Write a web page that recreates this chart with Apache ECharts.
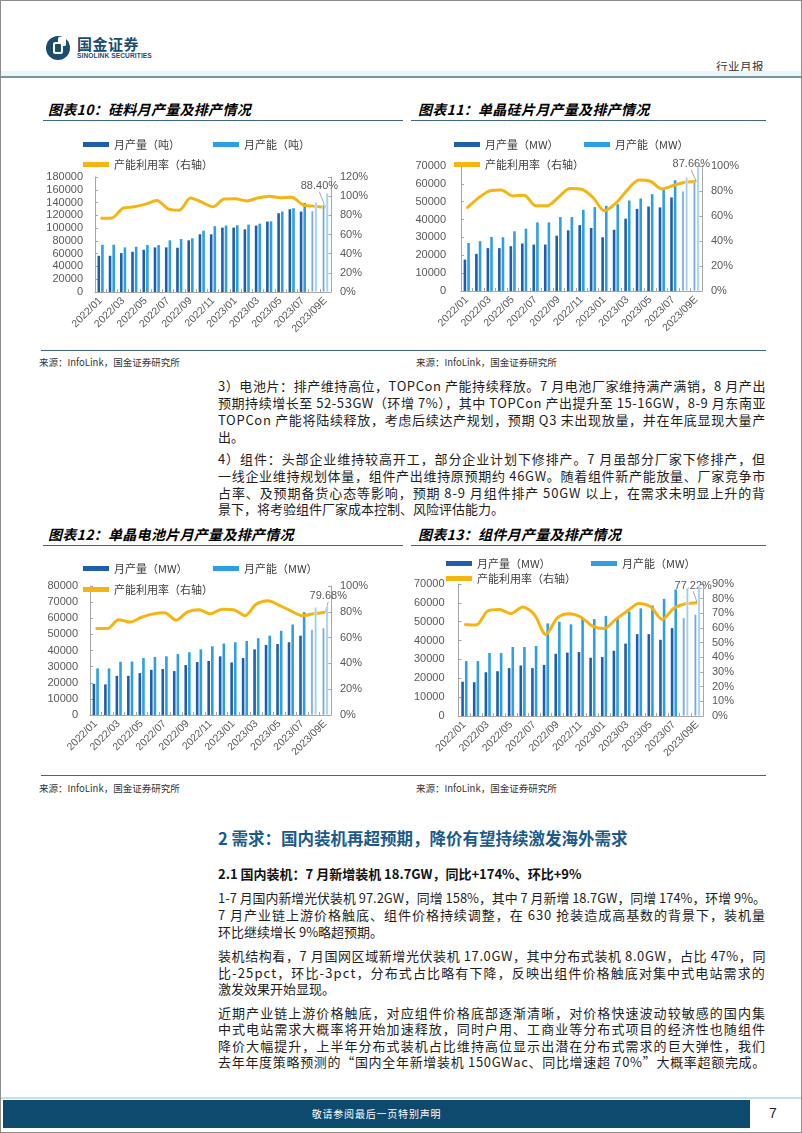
<!DOCTYPE html>
<html><head><meta charset="utf-8">
<script src="https://cdn.jsdelivr.net/npm/echarts@6/dist/echarts.min.js"></script>
<style>
html,body{margin:0;padding:0;background:#fff;}
#page{position:relative;width:802px;height:1133px;overflow:hidden;background:#fff;font-family:"Noto Sans CJK SC",sans-serif;box-sizing:border-box;border:1.5px solid #8c8c8c;}
.ctitle{position:absolute;font-size:14px;font-weight:bold;font-style:italic;color:#000;white-space:nowrap;line-height:16px;letter-spacing:0.3px}
.rule{position:absolute;height:1.5px;background:#3f6682;}
.src{position:absolute;font-size:9.5px;color:#333;white-space:nowrap;line-height:12px;}
.ln{position:absolute;left:217px;white-space:nowrap;font-size:13px;line-height:16px;color:#1e1e1e;}
.ln span{white-space:nowrap;}
.chart{position:absolute;}
</style></head>
<body>
<div id="page">
  <!-- header -->
  <svg style="position:absolute;left:44px;top:33px" width="28" height="28" viewBox="0 0 28 28">
    <circle cx="13" cy="14" r="12" fill="#1b4d70"/>
    <rect x="13" y="3" width="8" height="9" rx="1.5" fill="#ffffff"/>
    <rect x="8" y="8" width="10" height="12" rx="2" fill="#ffffff"/>
    <rect x="10" y="10" width="6" height="8" rx="1" fill="#1b4d70"/>
  </svg>
  <div style="position:absolute;left:76px;top:34px;font-size:15px;font-weight:bold;color:#1b4d70;letter-spacing:0.5px;line-height:17px;">国金证券</div>
  <div style="position:absolute;left:76px;top:51px;font-size:6.6px;font-weight:bold;color:#1b4d70;line-height:8px;font-family:'Liberation Sans Narrow','Liberation Sans',sans-serif;letter-spacing:0.1px">SINOLINK SECURITIES</div>
  <div style="position:absolute;left:715px;top:58px;font-size:11.5px;color:#333;line-height:14px;letter-spacing:0.5px">行业月报</div>
  <div style="position:absolute;left:0;top:70px;width:802px;height:5px;background:#e9f6fa;"></div>
  <div style="position:absolute;left:0;top:75px;width:802px;height:2px;background:#7795a4;"></div>

  <!-- chart titles -->
  <div class="ctitle" style="left:47px;top:100px">图表10：硅料月产量及排产情况</div>
  <div class="rule" style="left:42px;top:118.5px;width:360px"></div>
  <div class="ctitle" style="left:417px;top:100px">图表11：单晶硅片月产量及排产情况</div>
  <div class="rule" style="left:410px;top:118.5px;width:355px"></div>

  <div id="c10" class="chart" style="left:30px;top:125px;width:370px;height:220px"></div>
  <div id="c11" class="chart" style="left:410px;top:125px;width:390px;height:220px"></div>

  <div class="rule" style="left:40px;top:348.5px;width:725px"></div>
  <div class="src" style="left:38px;top:355px">来源：InfoLink，国金证券研究所</div>
  <div class="src" style="left:415px;top:355px">来源：InfoLink，国金证券研究所</div>

  <div class="ln j" style="top:377px"><span>3）电池片：排产维持高位，TOPCon 产能持续释放。7 月电池厂家维持满产满销，8 月产出</span></div>
  <div class="ln j" style="top:394px"><span>预期持续增长至 52-53GW（环增 7%），其中 TOPCon 产出提升至 15-16GW，8-9 月东南亚</span></div>
  <div class="ln j" style="top:411px"><span>TOPCon 产能将陆续释放，考虑后续达产规划，预期 Q3 末出现放量，并在年底显现大量产</span></div>
  <div class="ln" style="top:428px"><span>出。</span></div>
  <div class="ln j" style="top:450px"><span>4）组件：头部企业维持较高开工，部分企业计划下修排产。7 月虽部分厂家下修排产，但</span></div>
  <div class="ln j" style="top:467px"><span>一线企业维持规划体量，组件产出维持原预期约 46GW。随着组件新产能放量、厂家竞争市</span></div>
  <div class="ln j" style="top:484px"><span>占率、及预期备货心态等影响，预期 8-9 月组件排产 50GW 以上，在需求未明显上升的背</span></div>
  <div class="ln" style="top:500px"><span>景下，将考验组件厂家成本控制、风险评估能力。</span></div>

  <div class="ctitle" style="left:47px;top:525px">图表12：单晶电池片月产量及排产情况</div>
  <div class="rule" style="left:42px;top:543.5px;width:360px"></div>
  <div class="ctitle" style="left:417px;top:525px">图表13：组件月产量及排产情况</div>
  <div class="rule" style="left:410px;top:543.5px;width:355px"></div>

  <div id="c12" class="chart" style="left:30px;top:550px;width:370px;height:220px"></div>
  <div id="c13" class="chart" style="left:410px;top:550px;width:390px;height:220px"></div>

  <div class="rule" style="left:40px;top:773.5px;width:725px"></div>
  <div class="src" style="left:38px;top:781px">来源：InfoLink，国金证券研究所</div>
  <div class="src" style="left:415px;top:781px">来源：InfoLink，国金证券研究所</div>

  <div style="position:absolute;left:217px;top:826px;font-size:16.5px;font-weight:bold;color:#1b5a8a;white-space:nowrap;line-height:22px;">2 需求：国内装机再超预期，降价有望持续激发海外需求</div>
  <div class="ln" style="top:865px;font-weight:bold;color:#111"><span>2.1 国内装机：7 月新增装机 18.7GW，同比+174%、环比+9%</span></div>

  <div class="ln j" style="top:889px"><span>1-7 月国内新增光伏装机 97.2GW，同增 158%，其中 7 月新增 18.7GW，同增 174%，环增 9%。</span></div>
  <div class="ln j" style="top:906px"><span>7 月产业链上游价格触底、组件价格持续调整，在 630 抢装造成高基数的背景下，装机量</span></div>
  <div class="ln" style="top:923px"><span>环比继续增长 9%略超预期。</span></div>
  <div class="ln j" style="top:947px"><span>装机结构看，7 月国网区域新增光伏装机 17.0GW，其中分布式装机 8.0GW，占比 47%，同</span></div>
  <div class="ln j" style="top:964px"><span>比-25pct，环比-3pct，分布式占比略有下降，反映出组件价格触底对集中式电站需求的</span></div>
  <div class="ln" style="top:980px"><span>激发效果开始显现。</span></div>
  <div class="ln j" style="top:1004px"><span>近期产业链上游价格触底，对应组件价格底部逐渐清晰，对价格快速波动较敏感的国内集</span></div>
  <div class="ln j" style="top:1020px"><span>中式电站需求大概率将开始加速释放，同时户用、工商业等分布式项目的经济性也随组件</span></div>
  <div class="ln j" style="top:1037px"><span>降价大幅提升，上半年分布式装机占比维持高位显示出潜在分布式需求的巨大弹性，我们</span></div>
  <div class="ln j" style="top:1053px"><span>去年年度策略预测的“国内全年新增装机 150GWac、同比增速超 70%”大概率超额完成。</span></div>

  <!-- footer -->
  <div style="position:absolute;left:0;top:1096px;width:802px;height:1.5px;background:#bfe3ee;"></div>
  <div style="position:absolute;left:2px;top:1099px;width:747px;height:28px;background:#0d4a6e;"></div>
  <div style="position:absolute;left:2px;top:1106px;width:747px;text-align:center;font-size:10px;color:#fff;line-height:13px;letter-spacing:0.8px">敬请参阅最后一页特别声明</div>
  <div style="position:absolute;left:768px;top:1104px;font-size:14px;color:#222;line-height:16px;font-family:'Liberation Sans',sans-serif">7</div>
</div>

<script>
// ---------- data ----------
const categories = ['2022/01','2022/02','2022/03','2022/04','2022/05','2022/06','2022/07','2022/08','2022/09','2022/10','2022/11','2022/12',
  '2023/01','2023/02','2023/03','2023/04','2023/05','2023/06','2023/07','2023/08','2023/09E'];

// 图表10 硅料（吨）
const siliconOutput   = [56700,56700,60900,63000,66100,69800,69800,69300,80800,90300,90300,100800,100800,98100,103900,110200,123300,129600,125900,127000,137000];
const siliconCapacity = [74000,74000,69800,70800,73500,73500,80800,82900,84000,96000,102900,103900,104400,105500,107000,110700,126000,131200,139600,141000,155000];
const siliconUtil     = [77.0,77.3,87.5,88.9,91.7,95.5,86.8,85.4,98.2,93.8,88.9,97.0,97.3,95.0,98.2,100.0,98.4,98.8,91.0,89.6,88.4];

// 图表11 单晶硅片（MW）
const waferOutput   = [17600,20800,24000,24000,25100,26600,26000,26000,31000,34000,36900,35300,30100,34300,40500,46000,47300,46800,52400,55900,61000];
const waferCapacity = [26900,27900,30300,30100,33400,34900,38400,38400,41400,41400,45500,47000,47700,48600,50700,51800,54200,57200,62000,63700,69600];
const waferUtil     = [66.3,74.3,80.1,80.9,76.1,76.7,68.2,68.2,75.1,82.0,81.4,74.8,64.2,70.3,80.9,88.9,87.8,81.7,84.4,87.0,87.66];

// 图表12 单晶电池片（MW）
const cellOutput   = [19300,19000,24300,24300,26000,28000,28500,27200,31000,32800,33500,36400,32600,35300,40700,43400,44000,45100,49200,53000,54000];
const cellCapacity = [28900,28900,33000,33200,35300,36000,36400,37800,38900,40700,42600,44300,45100,45900,47600,49200,52200,56100,63800,66900,67800];
const cellUtil     = [67.0,67.0,73.8,72.0,75.8,78.4,79.2,73.5,80.0,81.6,78.4,82.0,81.6,77.0,86.0,88.6,85.0,80.8,77.0,78.5,79.68];

// 图表13 组件（MW）
const moduleOutput   = [18200,17900,23200,23750,25400,26800,25400,27100,33000,33600,33900,30900,31250,34600,38400,43400,43400,40400,46600,52100,53900];
const moduleCapacity = [29100,29100,33400,33400,36600,36600,37100,49100,50000,48600,51800,51400,53000,52300,55400,57100,58600,62100,67100,67900,69300];
const moduleUtil     = [62.4,62.0,71.6,72.6,69.8,74.4,69.3,55.6,67.0,69.8,67.5,61.3,59.7,65.9,71.6,76.7,74.4,65.9,73.5,76.5,77.22];

// axis scales
const siliconAxis = {leftMax:180000, leftStep:20000, rightMax:120, rightStep:20};
const waferAxis   = {leftMax:70000,  leftStep:10000, rightMax:100, rightStep:20};
const cellAxis    = {leftMax:80000,  leftStep:10000, rightMax:100, rightStep:20};
const moduleAxis  = {leftMax:70000,  leftStep:10000, rightMax:90,  rightStep:10};

const forecastCount = 2;
const COL_OUT = '#1f5eaa', COL_CAP = '#2d9fe4', COL_OUT_F = '#78a9d9', COL_CAP_F = '#9fcff0', COL_LINE = '#f5b411';
const AXIS_COL = '#a6a6a6', LABEL_COL = '#595959';

function buildChart(id, cfg) {
  const chart = echarts.init(document.getElementById(id), null, {renderer: 'canvas'});
  const n = categories.length;
  const actual = arr => arr.map((v, i) => i < n - forecastCount ? v : null);
  const fore = arr => arr.map((v, i) => i >= n - forecastCount ? v : null);
  const utilData = cfg.util.map((v, i) => i === n - 1
    ? {value: v, label: {show: true, formatter: cfg.utilLabel}}
    : v);
  const legBase = {icon: 'rect', itemWidth: 26, itemHeight: 5, itemGap: 0, padding: 0, selectedMode: false,
    textStyle: {fontSize: 11, color: '#404040', fontFamily: '"Noto Sans CJK SC", sans-serif'}};
  const barBase = {type: 'bar', barWidth: 2.6, barGap: '40%', barCategoryGap: '50%'};
  chart.setOption({
    animation: false,
    textStyle: {fontFamily: '"Liberation Sans", "Noto Sans CJK SC", sans-serif'},
    legend: [
      Object.assign({}, legBase, {data: [cfg.names[0]], left: cfg.leg[0][0], top: cfg.leg[0][1]}),
      Object.assign({}, legBase, {data: [cfg.names[1]], left: cfg.leg[1][0], top: cfg.leg[1][1]}),
      Object.assign({}, legBase, {data: [cfg.names[2]], left: cfg.leg[2][0], top: cfg.leg[2][1]})
    ],
    grid: {left: cfg.grid[0], top: cfg.grid[1], width: cfg.grid[2], height: cfg.grid[3], containLabel: false},
    xAxis: {
      type: 'category', data: categories, boundaryGap: true,
      axisLine: {lineStyle: {color: AXIS_COL, width: 1}},
      axisTick: {show: true, inside: true, length: 3, interval: 0, lineStyle: {color: AXIS_COL}},
      axisLabel: {interval: 1, rotate: 45, fontSize: 10.5, color: LABEL_COL, margin: 7}
    },
    yAxis: [
      {type: 'value', min: 0, max: cfg.axis.leftMax, interval: cfg.axis.leftStep,
       axisLine: {show: true, lineStyle: {color: AXIS_COL, width: 1}},
       axisTick: {show: true, inside: true, length: 3, lineStyle: {color: AXIS_COL}},
       splitLine: {show: false},
       axisLabel: {fontSize: 11, color: LABEL_COL, margin: cfg.lm, formatter: v => String(v)}},
      {type: 'value', min: 0, max: cfg.axis.rightMax, interval: cfg.axis.rightStep, position: 'right',
       axisLine: {show: true, lineStyle: {color: AXIS_COL, width: 1}},
       axisTick: {show: true, inside: true, length: 3, lineStyle: {color: AXIS_COL}},
       splitLine: {show: false},
       axisLabel: {fontSize: 11, color: LABEL_COL, margin: 9, formatter: v => String(v) + '%'}}
    ],
    series: [
      Object.assign({}, barBase, {name: cfg.names[0], stack: 'out', data: actual(cfg.out), itemStyle: {color: COL_OUT}, z: 2}),
      Object.assign({}, barBase, {name: cfg.names[1], stack: 'cap', data: actual(cfg.cap), itemStyle: {color: COL_CAP}, z: 2}),
      Object.assign({}, barBase, {name: cfg.names[0] + 'E', stack: 'out', data: fore(cfg.out), itemStyle: {color: COL_OUT_F, borderColor: '#ffffff', borderWidth: 0.4}, z: 4}),
      Object.assign({}, barBase, {name: cfg.names[1] + 'E', stack: 'cap', data: fore(cfg.cap), itemStyle: {color: COL_CAP_F, borderColor: '#ffffff', borderWidth: 0.4}, z: 4}),
      {type: 'line', name: cfg.names[2], yAxisIndex: 1, data: utilData, smooth: 0.3,
       showSymbol: true, symbol: 'circle', symbolSize: 1, itemStyle: {color: COL_LINE},
       lineStyle: {color: COL_LINE, width: 3}, z: 3,
       label: {show: false, fontSize: 11, color: LABEL_COL, position: 'top'},
       labelLine: {show: true, lineStyle: {color: '#a6a6a6', width: 1}},
       labelLayout: {dx: cfg.lab[0], dy: cfg.lab[1]}}
    ]
  });
  return chart;
}

buildChart('c10', {out: siliconOutput, cap: siliconCapacity, util: siliconUtil, axis: siliconAxis, utilLabel: '88.40%',
  names: ['月产量（吨）', '月产能（吨）', '产能利用率（右轴）'],
  leg: [[52, 13], [182, 13], [52, 33]], grid: [64, 51, 236, 115], lm: 12, lab: [-6, -10]});
buildChart('c11', {out: waferOutput, cap: waferCapacity, util: waferUtil, axis: waferAxis, utilLabel: '87.66%',
  names: ['月产量（MW）', '月产能（MW）', '产能利用率（右轴）'],
  leg: [[43, 13], [173, 13], [43, 33]], grid: [50, 40, 241, 125], lm: 15, lab: [-5, -6]});
buildChart('c12', {out: cellOutput, cap: cellCapacity, util: cellUtil, axis: cellAxis, utilLabel: '79.68%',
  names: ['月产量（MW）', '月产能（MW）', '产能利用率（右轴）'],
  leg: [[52, 12], [182, 12], [52, 33]], grid: [59, 35, 241, 129], lm: 12, lab: [3, -5]});
buildChart('c13', {out: moduleOutput, cap: moduleCapacity, util: moduleUtil, axis: moduleAxis, utilLabel: '77.22%',
  names: ['月产量（MW）', '月产能（MW）', '产能利用率（右轴）'],
  leg: [[35, 7], [180, 7], [35, 22]], grid: [47, 33, 245, 132], lm: 14, lab: [-4, -6]});

// justify body lines
function fitLines() {
  const target = 548;
  document.querySelectorAll('.ln').forEach(el => {
    const span = el.querySelector('span');
    span.style.letterSpacing = '0px';
    span.style.display = 'inline-block';
    span.style.transform = '';
    const w = span.getBoundingClientRect().width;
    const n = span.textContent.length;
    if (w > target) {
      span.style.transformOrigin = '0 0';
      span.style.transform = 'scaleX(' + (target / w) + ')';
    } else if (el.classList.contains('j')) {
      span.style.letterSpacing = ((target - w) / n) + 'px';
    }
  });
}
fitLines();
if (document.fonts && document.fonts.ready) document.fonts.ready.then(fitLines);
</script>
</body></html>
